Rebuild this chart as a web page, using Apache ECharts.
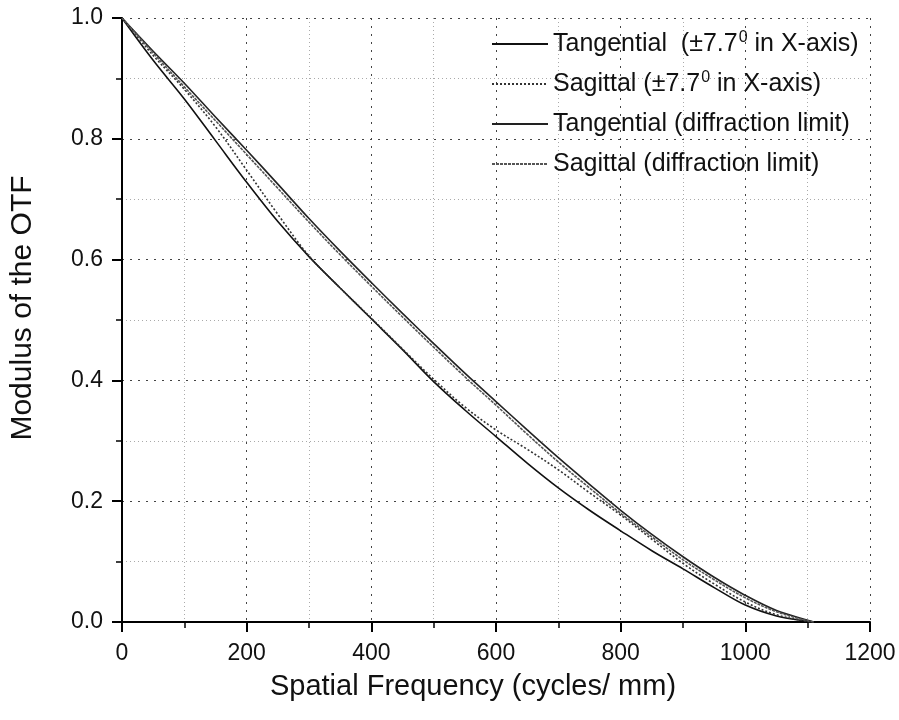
<!DOCTYPE html>
<html>
<head>
<meta charset="utf-8">
<script src="https://cdn.jsdelivr.net/npm/echarts@6/dist/echarts.min.js"></script>
<style>
html,body{margin:0;padding:0;background:#fff;}
#chart{width:899px;height:720px;}
</style>
</head>
<body>
<div id="chart"></div>
<script>
// Spatial frequency (cycles/mm)
var freq = [0,50,100,150,200,250,300,350,400,450,500,550,600,650,700,750,800,850,900,950,1000,1050,1100,1110];
// Modulus of the OTF
var tan77   = [1.0,0.930,0.866,0.797,0.728,0.663,0.605,0.553,0.502,0.451,0.398,0.351,0.307,0.263,0.222,0.185,0.151,0.118,0.088,0.057,0.028,0.010,0.001,0];
var sag77   = [1.0,0.938,0.882,0.820,0.748,0.675,0.606,0.553,0.503,0.452,0.402,0.356,0.318,0.286,0.252,0.214,0.177,0.137,0.097,0.063,0.033,0.012,0.001,0];
var tanDiff = [1.0,0.945,0.892,0.836,0.781,0.725,0.668,0.614,0.562,0.511,0.461,0.412,0.365,0.318,0.272,0.228,0.185,0.145,0.108,0.074,0.044,0.019,0.003,0];
var sagDiff = [1.0,0.942,0.886,0.830,0.774,0.718,0.662,0.608,0.556,0.505,0.455,0.406,0.359,0.311,0.265,0.222,0.180,0.141,0.103,0.070,0.040,0.017,0.002,0];

var seriesNames = [
  'Tangential  (±7.7^0 in X-axis)',
  'Sagittal (±7.7^0 in X-axis)',
  'Tangential (diffraction limit)',
  'Sagittal (diffraction limit)'
];
var xTicks = [0,200,400,600,800,1000,1200];
var yTicks = [0.0,0.2,0.4,0.6,0.8,1.0];

function pairs(ys){ return freq.map(function(x,i){ return [x, ys[i]]; }); }

var chart = echarts.init(document.getElementById('chart'), null, {renderer:'canvas'});
var FONT = 'Liberation Sans, Arial, sans-serif';
chart.setOption({
  backgroundColor:'#ffffff',
  animation:false,
  grid:{left:120, top:18, width:750, height:604, containLabel:false},
  legend:{
    orient:'vertical', left:486, top:25,
    itemWidth:56, itemHeight:14, itemGap:12,
    itemStyle:{opacity:0},
    textStyle:{
      fontFamily:FONT, fontSize:25, color:'#111', lineHeight:28,
      rich:{
        t:{fontFamily:FONT, fontSize:25, color:'#111'},
        s:{fontFamily:FONT, fontSize:16, color:'#111', verticalAlign:'top', padding:[0,0,12,1]}
      }
    },
    formatter:function(name){
      var parts = name.split('^0');
      if(parts.length===2){ return '{t|'+parts[0]+'}{s|0}{t|'+parts[1]+'}'; }
      return '{t|'+name+'}';
    },
    data:seriesNames
  },
  xAxis:{
    type:'value', min:0, max:1200, interval:200,
    name:'Spatial Frequency (cycles/ mm)', nameLocation:'middle', nameGap:50,
    nameTextStyle:{fontFamily:FONT, fontSize:29, color:'#111', padding:[0,46,0,0]},
    axisLine:{show:true, onZero:false, lineStyle:{color:'#000', width:2}},
    axisTick:{show:true, inside:false, length:10, lineStyle:{color:'#000', width:2}},
    minorTick:{show:true, splitNumber:2, length:6, lineStyle:{color:'#000', width:1.5}},
    axisLabel:{fontFamily:FONT, fontSize:23, color:'#111', margin:20,
      formatter:function(v){ return xTicks.indexOf(v)>=0 ? String(v) : ''; }},
    splitLine:{show:true, lineStyle:{color:'#444', width:1, type:[2,6]}},
    minorSplitLine:{show:true, lineStyle:{color:'#aaa', width:1, type:[1,3]}}
  },
  yAxis:{
    type:'value', min:0, max:1, interval:0.2,
    name:'Modulus of the OTF', nameLocation:'middle', nameGap:84, nameRotate:90,
    nameTextStyle:{fontFamily:FONT, fontSize:30, color:'#111', padding:[0,0,0,24]},
    axisLine:{show:true, onZero:false, lineStyle:{color:'#000', width:2}},
    axisTick:{show:true, inside:false, length:10, lineStyle:{color:'#000', width:2}},
    minorTick:{show:true, splitNumber:2, length:6, lineStyle:{color:'#000', width:1.5}},
    axisLabel:{fontFamily:FONT, fontSize:23, color:'#111', margin:19,
      formatter:function(v){ return v.toFixed(1); }},
    splitLine:{show:true, lineStyle:{color:'#444', width:1, type:[2,6]}},
    minorSplitLine:{show:true, lineStyle:{color:'#aaa', width:1, type:[1,3]}}
  },
  series:[
    {name:seriesNames[0], type:'line', data:pairs(tan77), smooth:0.35, symbol:'none',
      lineStyle:{color:'#111', width:1.6, type:'solid'}, itemStyle:{color:'#111'}},
    {name:seriesNames[1], type:'line', data:pairs(sag77), smooth:0.35, symbol:'none',
      lineStyle:{color:'#333', width:1.6, type:[2,2]}, itemStyle:{color:'#333'}},
    {name:seriesNames[2], type:'line', data:pairs(tanDiff), smooth:0.35, symbol:'none',
      lineStyle:{color:'#222', width:1.6, type:'solid'}, itemStyle:{color:'#222'}},
    {name:seriesNames[3], type:'line', data:pairs(sagDiff), smooth:0.35, symbol:'none',
      lineStyle:{color:'#555', width:1.6, type:[3,1]}, itemStyle:{color:'#555'}}
  ]
});
</script>
</body>
</html>
